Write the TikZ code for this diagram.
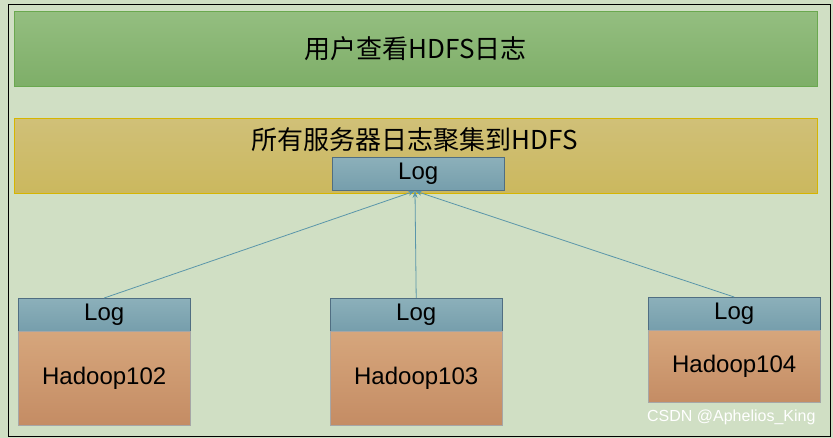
\documentclass[tikz,border=0pt]{standalone}
\usepackage{fontspec}
\setmainfont{Liberation Sans}
\newfontfamily\cjk{Noto Sans CJK SC}
\usetikzlibrary{arrows.meta}
\definecolor{bg}{HTML}{D0DFC4}
\begin{document}
\begin{tikzpicture}[x=1pt,y=-1pt,
  bar/.style={draw, line width=0.8pt, anchor=north west, inner sep=0pt},
  logbox/.style={draw={rgb,255:red,80;green,110;blue,130}, top color={rgb,255:red,140;green,176;blue,186}, bottom color={rgb,255:red,118;green,158;blue,172}, anchor=north west, inner sep=0pt, font=\fontsize{24}{25}\selectfont, text=black},
  hbox/.style={draw=gray!70, top color={rgb,255:red,214;green,166;blue,124}, bottom color={rgb,255:red,196;green,140;blue,100}, anchor=north west, inner sep=0pt, font=\fontsize{24}{25}\selectfont},
  arr/.style={draw={rgb,255:red,90;green,150;blue,170}, line width=0.8pt, -{Stealth[length=7pt,width=5pt]}}]
\useasboundingbox (0,0) rectangle (833,438);
\fill[bg] (0,0) rectangle (833,438);
\draw[line width=0.7pt] (8,4) rectangle (830,436);
\node[bar, draw={rgb,255:red,106;green,168;blue,79}, top color={rgb,255:red,148;green,190;blue,128}, bottom color={rgb,255:red,126;green,174;blue,104}, minimum width=803, minimum height=75] (top) at (14,11) {};
\node[font=\cjk\fontsize{26}{27}\selectfont] (toptext) at (top.center) {用户查看HDFS日志};
\node[bar, draw={rgb,255:red,214;green,181;blue,0}, top color={rgb,255:red,208;green,192;blue,120}, bottom color={rgb,255:red,203;green,184;blue,94}, minimum width=803, minimum height=75] (mid) at (14,118) {};
\node[font=\cjk\fontsize{26}{27}\selectfont] (midtext) at (415,140) {所有服务器日志聚集到HDFS};
\node[logbox, minimum width=172, minimum height=33] (logc) at (332,157) {Log};
\node[logbox, minimum width=172, minimum height=33] (log1) at (18,298) {Log};
\node[hbox, minimum width=172, minimum height=94] (h1) at (log1.south west) {Hadoop102};
\node[logbox, minimum width=172, minimum height=33] (log2) at (330,298) {Log};
\node[hbox, minimum width=172, minimum height=94] (h2) at (log2.south west) {Hadoop103};
\node[logbox, minimum width=172, minimum height=33] (log3) at (648,297) {Log};
\node[hbox, minimum width=172, minimum height=72] (h3) at (log3.south west) {Hadoop104};
\coordinate (tip) at (415,191);
\draw[arr] (log1.north) -- (tip);
\draw[arr] (log2.north) -- (tip);
\draw[arr] (log3.north) -- (tip);
\node[text=white, font=\fontsize{16}{17}\selectfont, anchor=east] (wm) at (819,417) {CSDN @Aphelios\_King};
\end{tikzpicture}
\end{document}
